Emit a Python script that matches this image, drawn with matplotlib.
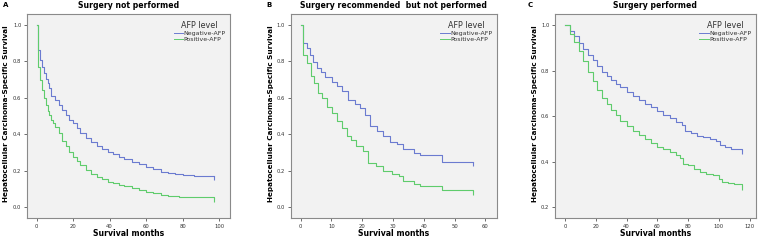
import matplotlib
matplotlib.use('Agg')
import matplotlib.pyplot as plt
from matplotlib.lines import Line2D

# ── Data ──────────────────────────────────────────────────────
# Panel A: surgery not performed
a_neg_t = [0, 1, 2, 3, 4, 5, 6, 7, 8, 10, 12, 14, 16, 18, 20, 22, 24, 27, 30, 33,
           36, 39, 42, 45, 48, 52, 56, 60, 64, 68, 72, 76, 80, 86, 92, 97]
a_neg_s = [1.0, 0.86, 0.81, 0.77, 0.735, 0.705, 0.68, 0.655, 0.61, 0.59, 0.56, 0.535,
           0.505, 0.48, 0.46, 0.435, 0.405, 0.38, 0.355, 0.337, 0.32, 0.303, 0.29,
           0.275, 0.263, 0.25, 0.235, 0.218, 0.208, 0.195, 0.186, 0.183, 0.178,
           0.173, 0.17, 0.168]
a_pos_t = [0, 0.7, 1, 2, 3, 4, 5, 6, 7, 8, 9, 10, 12, 14, 16, 18, 20, 22, 24, 27, 30,
           33, 36, 39, 42, 45, 48, 52, 56, 60, 64, 68, 72, 78, 86, 92, 97]
a_pos_s = [1.0, 0.87, 0.77, 0.70, 0.64, 0.60, 0.56, 0.53, 0.505, 0.48, 0.46, 0.44,
           0.405, 0.365, 0.335, 0.30, 0.275, 0.252, 0.232, 0.205, 0.183, 0.165, 0.152,
           0.14, 0.132, 0.122, 0.113, 0.103, 0.093, 0.083, 0.075, 0.068, 0.062,
           0.058, 0.055, 0.053, 0.051]

# Panel B: surgery recommended but not performed
b_neg_t = [0, 0.9, 2.2, 3.0, 4.1, 5.2, 6.5, 7.9, 10.1, 11.7, 13.3, 15.5, 17.7, 19.3,
           20.9, 22.5, 24.7, 26.9, 29.1, 31.2, 33.4, 36.7, 38.8, 46.0, 56.0]
b_neg_s = [1.0, 0.90, 0.872, 0.835, 0.799, 0.762, 0.739, 0.713, 0.689, 0.662, 0.635,
           0.589, 0.567, 0.543, 0.506, 0.443, 0.419, 0.388, 0.36, 0.348, 0.318,
           0.296, 0.287, 0.25, 0.245]
b_pos_t = [0, 0.9, 2.2, 3.3, 4.3, 5.7, 6.8, 8.4, 10.1, 11.7, 13.3, 14.9, 16.5, 18.1,
           20.3, 21.9, 24.6, 26.9, 29.6, 31.8, 33.4, 36.7, 38.8, 46.0, 56.0]
b_pos_s = [1.0, 0.835, 0.79, 0.717, 0.68, 0.625, 0.598, 0.552, 0.516, 0.47, 0.434,
           0.388, 0.37, 0.333, 0.306, 0.243, 0.225, 0.197, 0.179, 0.17, 0.142,
           0.128, 0.115, 0.092, 0.088]

# Panel C: surgery performed
c_neg_t = [0, 3, 6, 9, 12, 15, 18, 21, 24, 27, 30, 33, 36, 40, 44, 48, 52, 56, 60,
           64, 68, 72, 76, 78, 82, 86, 90, 94, 98, 101, 104, 108, 115]
c_neg_s = [1.0, 0.975, 0.95, 0.92, 0.895, 0.87, 0.845, 0.82, 0.795, 0.775, 0.758,
           0.742, 0.727, 0.705, 0.688, 0.672, 0.655, 0.638, 0.622, 0.605, 0.59,
           0.572, 0.56, 0.535, 0.528, 0.512, 0.508, 0.5, 0.49, 0.473, 0.466, 0.455,
           0.452]
c_pos_t = [0, 3, 6, 9, 12, 15, 18, 21, 24, 27, 30, 33, 36, 40, 44, 48, 52, 56, 60,
           64, 68, 72, 75, 77, 80, 84, 88, 92, 96, 100, 102, 106, 110, 115]
c_pos_s = [1.0, 0.96, 0.925, 0.885, 0.84, 0.795, 0.755, 0.715, 0.68, 0.652, 0.628,
           0.603, 0.58, 0.555, 0.535, 0.515, 0.5, 0.483, 0.465, 0.455, 0.442, 0.428,
           0.415, 0.39, 0.385, 0.37, 0.355, 0.345, 0.34, 0.325, 0.312, 0.305, 0.3,
           0.295]

PANELS = [
    ('A', 'Surgery not performed', a_neg_t, a_neg_s, a_pos_t, a_pos_s,
     (-5.3, 106), range(0, 101, 20), (-0.06, 1.06), [0.0, 0.2, 0.4, 0.6, 0.8, 1.0]),
    ('B', 'Surgery recommended  but not performed', b_neg_t, b_neg_s, b_pos_t, b_pos_s,
     (-3.25, 63.7), range(0, 61, 10), (-0.06, 1.06), [0.0, 0.2, 0.4, 0.6, 0.8, 1.0]),
    ('C', 'Surgery performed', c_neg_t, c_neg_s, c_pos_t, c_pos_s,
     (-6.5, 124), range(0, 121, 20), (0.153, 1.048), [0.2, 0.4, 0.6, 0.8, 1.0]),
]
AX_LEFT  = [27, 290.7, 555]
AX_WIDTH = [203, 206, 200.7]
LETTER_X = [3, 266, 528]
YLAB_X   = [6, 270.5, 535]

BLUE  = '#6b7bd0'
GREEN = '#5fcc6c'
FRAME = '#8a8a8a'

W, H = 760, 240
fig = plt.figure(figsize=(W / 100, H / 100), dpi=100)
fig.patch.set_facecolor('white')

for k, (letter, title, nt, ns, pt, ps, xlim, xt, ylim, yt) in enumerate(PANELS):
    ax = fig.add_axes([AX_LEFT[k] / W, 1 - 218 / H, AX_WIDTH[k] / W, 204 / H])
    ax.set_facecolor('#f2f2f2')
    ax.step(nt, ns, where='post', color=BLUE, lw=0.8)
    ax.step(pt, ps, where='post', color=GREEN, lw=0.8)
    # end-of-follow-up censor ticks
    ax.plot(nt[-1], ns[-1], marker=3, ms=3, mew=0.8, color=BLUE)
    ax.plot(pt[-1], ps[-1], marker=3, ms=3, mew=0.8, color=GREEN)

    ax.set_xlim(*xlim); ax.set_ylim(*ylim)
    ax.set_xticks(list(xt)); ax.set_yticks(yt)
    ax.set_yticklabels([f'{v:.1f}' for v in yt])
    ax.tick_params(labelsize=3.8, length=2.5, width=0.6, color='#555555',
                   labelcolor='#333333', pad=1.5)
    for sp in ax.spines.values():
        sp.set_color(FRAME); sp.set_linewidth(0.8)

    ax.set_title(title, fontsize=5.6, fontweight='bold', pad=4)
    cx = (AX_LEFT[k] + AX_WIDTH[k] / 2) / W
    fig.text(cx, 1 - 234 / H, 'Survival months', fontsize=5.6, fontweight='bold',
             ha='center', va='center')
    fig.text(YLAB_X[k] / W, 1 - 114 / H, 'Hepatocellular Carcinoma-Specific Survival',
             fontsize=5.2, fontweight='bold', rotation=90, ha='center', va='center')
    fig.text(LETTER_X[k] / W, 1 - 5 / H, letter, fontsize=5, fontweight='bold',
             ha='left', va='center')

    handles = [Line2D([], [], color=BLUE, lw=0.7, drawstyle='steps-post'),
               Line2D([], [], color=GREEN, lw=0.7, drawstyle='steps-post')]
    leg = ax.legend(handles, ['Negative-AFP', 'Positive-AFP'], title='AFP level',
                    loc='upper right', bbox_to_anchor=(1.0, 0.985), frameon=False,
                    fontsize=4.5, title_fontsize=5.8, handlelength=1.5,
                    handletextpad=0.1, labelspacing=0.1, borderaxespad=0.3)
    leg.get_title().set_color('#333333')
    for t in leg.get_texts():
        t.set_color('#333333')

fig.savefig('out.png', dpi=100)
